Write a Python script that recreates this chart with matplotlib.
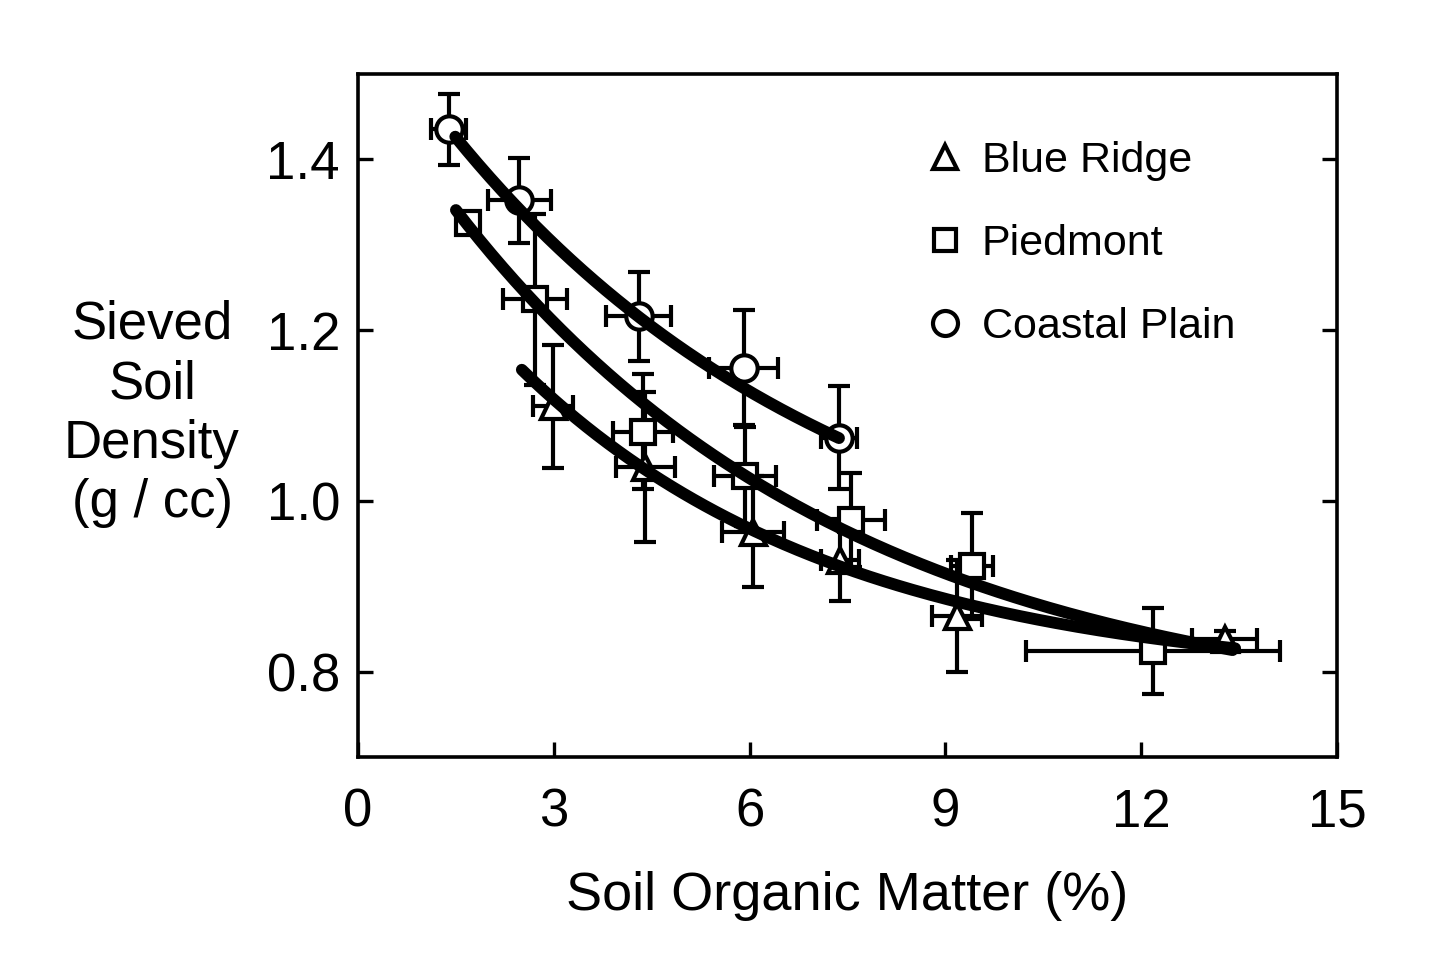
import numpy as np
import matplotlib
matplotlib.use("Agg")
import matplotlib.pyplot as plt
from matplotlib.lines import Line2D

plt.rcParams["font.family"] = ["Liberation Sans", "DejaVu Sans"]

# ==========================================
#  DATA
# ==========================================
groups = ["Blue Ridge", "Piedmont", "Coastal Plain"]
markers = ["^", "s", "o"]

br_x = [2.99, 4.40, 6.05, 7.38, 9.18, 13.28]
br_y = [1.111, 1.040, 0.964, 0.931, 0.865, 0.838]
br_xerr = [0.31, 0.45, 0.48, 0.29, 0.38, 0.50]
br_yerr = [0.072, 0.088, 0.065, 0.048, 0.066, 0.010]

pd_x = [1.69, 2.71, 4.37, 5.93, 7.55, 9.41, 12.18]
pd_y = [1.325, 1.236, 1.081, 1.029, 0.978, 0.924, 0.824]
pd_xerr = [0.0, 0.49, 0.46, 0.48, 0.52, 0.32, 1.95]
pd_yerr = [0.0, 0.10, 0.067, 0.058, 0.055, 0.062, 0.05]

cp_x = [1.39, 2.47, 4.30, 5.91, 7.37]
cp_y = [1.435, 1.352, 1.216, 1.156, 1.074]
cp_xerr = [0.27, 0.48, 0.50, 0.53, 0.27]
cp_yerr = [0.042, 0.050, 0.052, 0.067, 0.060]

# fitted curves y = a + b * exp(-c * x), drawn between x_lo and x_hi
fit_a = [0.788, 0.741, 0.858]
fit_b = [0.610, 0.768, 0.727]
fit_c = [0.204, 0.165, 0.165]
fit_lo = [2.51, 1.50, 1.49]
fit_hi = [13.44, 13.40, 7.37]

xs = [br_x, pd_x, cp_x]
ys = [br_y, pd_y, cp_y]
xerrs = [br_xerr, pd_xerr, cp_xerr]
yerrs = [br_yerr, pd_yerr, cp_yerr]
msizes = [18, 17, 19]

# ==========================================
#  PLOT
# ==========================================
fig = plt.figure(figsize=(14.39, 9.77), dpi=100)
ax = fig.add_axes([0.2488, 0.2252, 0.6803, 0.6991])

for i in range(3):
    ax.errorbar(xs[i], ys[i], xerr=xerrs[i], yerr=yerrs[i], fmt="none",
                ecolor="black", elinewidth=3.0, capsize=8, capthick=3.0,
                zorder=2)
    ax.plot(xs[i], ys[i], linestyle="none", marker=markers[i],
            ms=msizes[i], mfc="white", mec="black", mew=3.0, zorder=3)

for i in range(3):
    xf = np.linspace(fit_lo[i], fit_hi[i], 200)
    yf = fit_a[i] + fit_b[i] * np.exp(-fit_c[i] * xf)
    ax.plot(xf, yf, color="black", lw=8.5, solid_capstyle="round", zorder=5)

ax.set_xlim(0, 15)
ax.set_ylim(0.7, 1.5)
ax.set_xticks([0, 3, 6, 9, 12, 15])
ax.set_yticks([0.8, 1.0, 1.2, 1.4])
ax.set_yticklabels(["0.8", "1.0", "1.2", "1.4"])

for sp in ax.spines.values():
    sp.set_linewidth(2.6)

ax.tick_params(axis="both", direction="in", length=11, width=2.4,
               labelsize=38)
ax.tick_params(axis="y", right=True, pad=13)
ax.tick_params(axis="x", top=False, pad=22)

ax.set_xlabel("Soil Organic Matter (%)", fontsize=39, labelpad=24)
fig.text(152 / 1439, 1 - 414 / 977, "Sieved\nSoil\nDensity\n(g / cc)",
         ha="center", va="center", fontsize=38, linespacing=1.24)

handles = [Line2D([], [], linestyle="none", marker=markers[i], ms=msizes[i] - 1,
                  mfc="white", mec="black", mew=3.0) for i in range(3)]
fig.legend(handles, groups, loc="upper left",
           bbox_to_anchor=(928 / 1439, 1 - 141 / 977), frameon=False,
           fontsize=31, handlelength=0.8, handletextpad=0.45,
           labelspacing=1.0, borderpad=0, borderaxespad=0)

fig.savefig("out.png", dpi=100, facecolor="white")
